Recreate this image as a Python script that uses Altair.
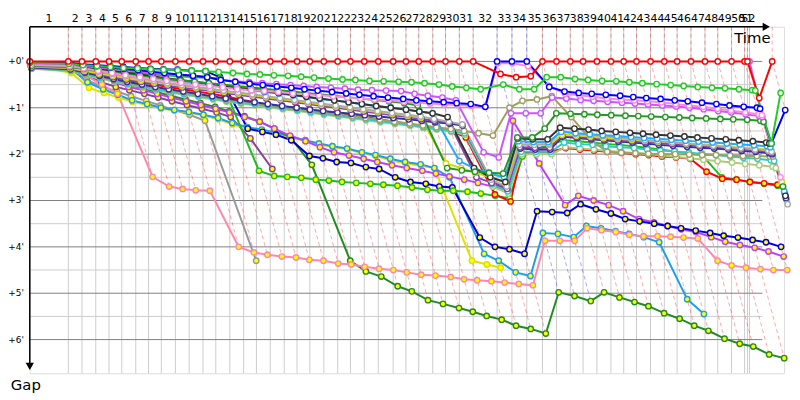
import altair as alt
import pandas as pd

# leader's cumulative race time (s) at the end of each lap index 0..53
lap_time = [0, 187, 253, 320, 384, 446, 514, 576, 638, 706, 773, 840, 902, 970, 1037, 1099,
            1166, 1234, 1296, 1358, 1426, 1493, 1555, 1622, 1690, 1762, 1824, 1886, 1954, 2016,
            2083, 2150, 2266, 2338, 2410, 2486, 2554, 2621, 2683, 2750, 2818, 2880, 2942, 3010,
            3077, 3139, 3206, 3274, 3336, 3403, 3466, 3480, 3490, 3600]
lap_labels = [str(n) for n in range(1, 53)]
gap_ticks = [0, 1, 2, 3, 4, 5, 6]
gap_minor = [0.5, 1.5, 2.5, 3.5, 4.5, 5.5]

# gaps to the leader (minutes), per lap from lap index 0
red_h = [0, 0, 0, 0, 0, 0, 0, 0, 0, 0, 0, 0, 0, 0, 0, 0, 0, 0, 0, 0, 0, 0, 0, 0, 0, 0, 0, 0, 0, 0, 0, 0,
         0.27, 0.34, 0.32,
         0, 0, 0, 0, 0, 0, 0, 0, 0, 0, 0, 0, 0, 0, 0, 0, 0, 0.79, 0]
green_h = [0.03, 0.05, 0.08, 0.1, 0.12, 0.14, 0.15, 0.17, 0.18, 0.19, 0.2, 0.21,
           0.23, 0.25, 0.27, 0.28, 0.3, 0.31, 0.33, 0.35, 0.37, 0.39, 0.4, 0.42, 0.43, 0.44, 0.45, 0.47, 0.5, 0.54, 0.57, 0.6,
           0.5, 0.6, 0.6,
           0.34, 0.34, 0.38, 0.4, 0.42, 0.43, 0.45, 0.47, 0.49, 0.51, 0.53, 0.55, 0.57, 0.58, 0.6, 0.62, 0.63, 1.77, 0.68]
blue_h = [0.02, 0.04, 0.07, 0.1, 0.13, 0.16, 0.19, 0.22, 0.25, 0.28, 0.31, 0.34,
          0.4, 0.44, 0.48, 0.51, 0.54, 0.57, 0.6, 0.63, 0.66, 0.69, 0.72, 0.75, 0.78, 0.81, 0.84, 0.86, 0.88, 0.9, 0.92, 0.98,
          0, 0, 0,
          0.55, 0.65, 0.68, 0.7, 0.72, 0.74, 0.77, 0.79, 0.81, 0.84, 0.86, 0.89, 0.92, 0.95, 0.98, 1.0, 1.02, 1.77, 1.05]
pink_h = [0.08, 0.1, 0.15, 0.2, 0.25, 0.3, 0.34, 0.38, 0.42, 0.46, 0.5, 0.53,
          0.56, 0.6, 0.62, 0.64, 0.66, 0.69, 0.71, 0.73, 0.75, 0.78, 0.8, 0.82, 0.84, 0.87, 0.89, 0.91, 0.93, 0.94, 0.96, 0.98,
          0.04, 0.04, 0.1,
          0.53, 0.7, 0.73, 0.76, 0.8, 0.82, 0.84, 0.86, 0.88, 0.92, 0.95, 0.98, 1.02, 1.06, 1.1, 1.14, 1.16, 2.5]
violet_h = [0.05, 0.07, 0.1, 0.13, 0.16, 0.19, 0.22, 0.25, 0.27, 0.29, 0.31, 0.33,
            0.4, 0.43, 0.45, 0.47, 0.49, 0.51, 0.53, 0.55, 0.57, 0.59, 0.61, 0.62, 0.63, 0.64, 0.7, 0.74, 0.78, 0.84, 1.96, 2.07,
            1.12, 1.12, 1.12,
            0.78, 0.8, 0.83, 0.85, 0.87, 0.89, 0.91, 0.93, 0.95, 0.97, 1.0, 1.03, 1.07, 1.1, 1.14, 1.18, 1.2, 0]
dkgreen_h = [0.1, 0.12, 0.16, 0.2, 0.24, 0.28, 0.32, 0.35, 0.38, 0.41, 0.44, 0.47,
             0.5, 0.53, 0.56, 0.59, 0.62, 0.65, 0.68, 0.71, 0.74, 0.77, 0.8, 0.83, 0.86, 0.9, 0.95, 2.3, 2.35, 2.38, 2.4, 2.42,
             1.64, 1.64, 1.45,
             1.12, 1.13, 1.14, 1.15, 1.16, 1.17, 1.18, 1.19, 1.2, 1.21, 1.22, 1.23, 1.24, 1.25, 1.26, 1.28, 1.3, 2.7]
black_h = [0.06, 0.08, 0.12, 0.16, 0.2, 0.24, 0.28, 0.32, 0.36, 0.4, 0.44, 0.48,
           0.52, 0.56, 0.6, 0.64, 0.68, 0.72, 0.76, 0.8, 0.84, 0.88, 0.92, 0.96, 1.0, 1.04, 1.08, 1.12, 1.2, 2.3, 2.5, 2.6,
           1.66, 1.68, 1.68,
           1.43, 1.45, 1.47, 1.5, 1.52, 1.54, 1.56, 1.58, 1.6, 1.62, 1.64, 1.66, 1.68, 1.7, 1.72, 1.75, 1.77, 2.9]
ltblue_h = [0.07, 0.09, 0.14, 0.18, 0.22, 0.27, 0.31, 0.35, 0.39, 0.43, 0.47, 0.5,
            0.54, 0.58, 0.62, 0.66, 0.69, 0.73, 0.77, 0.81, 0.84, 0.88, 0.92, 0.96, 1.0, 1.04, 1.08, 1.12, 2.15, 2.3, 2.42, 2.5,
            1.72, 1.74, 1.74,
            1.52, 1.55, 1.57, 1.59, 1.61, 1.63, 1.65, 1.67, 1.69, 1.71, 1.73, 1.75, 1.77, 1.79, 1.81, 1.83, 1.85, 2.8]
grey_h = [0.09, 0.11, 0.17, 0.22, 0.27, 0.32, 0.37, 0.42, 0.47, 0.51, 0.55, 0.59,
          0.63, 0.67, 0.71, 0.75, 0.79, 0.83, 0.87, 0.91, 0.95, 0.99, 1.03, 1.07, 1.11, 1.15, 1.19, 1.24, 1.3, 1.36, 2.55, 2.7,
          1.8, 1.8, 1.78,
          1.5, 1.55, 1.58, 1.61, 1.64, 1.67, 1.7, 1.72, 1.75, 1.77, 1.8, 1.82, 1.85, 1.87, 1.9, 1.92, 1.95, 3.08]
yellow_h = [0.11, 0.14, 0.2, 0.26, 0.31, 0.36, 0.41, 0.45, 0.49, 0.53, 0.57, 0.61,
            0.65, 0.69, 0.73, 0.77, 0.81, 0.85, 0.89, 0.93, 0.97, 1.01, 1.05, 1.09, 1.13, 1.17, 1.21, 2.2, 2.3, 2.4, 2.5, 2.62,
            1.78, 1.78, 1.8,
            1.58, 1.6, 1.62, 1.65, 1.67, 1.69, 1.71, 1.73, 1.75, 1.77, 1.79, 1.81, 1.84, 1.86, 1.88, 1.9, 1.93, 2.6]
purple_h = [0.12, 0.15, 0.22, 0.28, 0.34, 0.39, 0.44, 0.48, 0.52, 0.56, 0.6, 0.64,
            0.68, 0.72, 0.76, 0.8, 0.84, 0.88, 0.92, 0.96, 1.0, 1.04, 1.08, 1.12, 1.16, 1.2, 1.24, 1.28, 1.32, 2.5, 2.62, 2.75,
            1.85, 1.86, 1.86,
            1.6, 1.63, 1.65, 1.68, 1.7, 1.72, 1.74, 1.76, 1.78, 1.8, 1.82, 1.84, 1.87, 1.9, 1.92, 1.95, 1.97, 2.85]
navy_h = [0.13, 0.17, 0.24, 0.31, 0.38, 0.44, 0.5, 0.55, 0.6, 0.65, 0.7, 0.75,
          0.8, 0.84, 0.88, 0.92, 0.96, 1.0, 1.04, 1.07, 1.1, 1.13, 1.16, 1.19, 1.22, 1.25, 1.28, 1.31, 1.34, 1.38, 2.6, 2.7,
          1.88, 1.9, 1.9,
          1.62, 1.65, 1.68, 1.7, 1.73, 1.75, 1.77, 1.8, 1.82, 1.84, 1.86, 1.88, 1.9, 1.93, 1.95, 1.98, 2.0, 2.95]
olive_h = [0.14, 0.18, 0.26, 0.33, 0.4, 0.46, 0.52, 0.57, 0.62, 0.67, 0.72, 0.77,
           0.82, 0.86, 0.9, 0.94, 0.98, 1.02, 1.06, 1.1, 1.14, 1.18, 1.22, 1.26, 1.3, 1.34, 1.38, 1.42, 1.46, 1.5, 1.55, 1.6,
           1.0, 0.85, 0.82,
           0.75, 1.2, 1.7, 1.95, 1.97, 1.98, 1.99, 2.0, 2.0, 2.01, 2.02, 2.02, 2.03, 2.04, 2.04, 2.05, 2.05, 2.7]
teal_h = [0.15, 0.2, 0.28, 0.35, 0.42, 0.48, 0.54, 0.6, 0.65, 0.7, 0.75, 0.8,
          0.85, 0.89, 0.93, 0.97, 1.01, 1.05, 1.09, 1.13, 1.17, 1.21, 1.25, 1.29, 1.33, 1.37, 1.41, 1.45, 1.5, 1.55, 2.65, 2.8,
          1.95, 1.95, 1.95,
          1.75, 1.78, 1.8, 1.83, 1.85, 1.87, 1.9, 1.92, 1.94, 1.97, 1.99, 2.02, 2.05, 2.08, 2.1, 2.13, 2.15, 2.9]
ltgreen_h = [0.16, 0.21, 0.3, 0.37, 0.44, 0.5, 0.56, 0.62, 0.67, 0.72, 0.77, 0.82,
             0.87, 0.91, 0.95, 0.99, 1.03, 1.07, 1.11, 1.15, 1.19, 1.23, 1.27, 1.31, 1.35, 1.39, 1.43, 1.47, 1.52, 1.58, 2.7, 2.85,
             2.0, 2.0, 2.0,
             1.85, 1.88, 1.9, 1.93, 1.95, 1.98, 2.0, 2.03, 2.06, 2.09, 2.12, 2.15, 2.18, 2.21, 2.24, 2.27, 2.3, 3.0]
red_y = [0.1, 0.12, 0.18, 0.25, 0.32, 0.4, 0.45, 0.5, 0.55, 0.6, 0.65, 0.7, 0.75,
         0.82, 0.88, 0.94, 0.98, 1.0, 1.04, 1.08, 1.12, 1.17, 1.2, 1.25, 1.3,
         1.35, 1.43, 1.45, 1.5, 1.64, 2.87, 3.02,
         1.98, 1.95, 1.95,
         1.87, 1.9, 1.92, 1.95, 1.97, 2.0, 2.02, 2.05, 2.07, 2.1, 2.38, 2.53, 2.55, 2.6, 2.63, 2.66]
green_y = [0.05, 0.07, 0.12, 0.16, 0.2, 0.23, 0.26, 0.28, 0.3, 0.32, 0.34, 0.35, 0.37,
           2.36, 2.47, 2.49, 2.51, 2.55, 2.57, 2.6, 2.62, 2.64, 2.66,
           2.68, 2.72, 2.77, 2.79, 2.79, 2.81, 2.85, 2.9, 2.95,
           2.05, 1.9, 1.8,
           1.7, 1.72, 1.75, 1.78, 1.8, 1.83, 1.86, 1.9, 1.94, 1.98, 2.02, 2.5, 2.55, 2.6, 2.64, 2.68]
navy_y = [0.02, 0.03, 0.06, 0.08, 0.1, 0.12, 0.14, 0.16, 0.17, 0.18, 0.2, 0.21, 0.34,
          1.45, 1.52, 1.58, 1.7, 2.04, 2.09, 2.17, 2.19, 2.28, 2.32,
          2.5, 2.6, 2.64, 2.7, 2.72, 3.8, 4.0, 4.05, 4.15,
          3.23, 3.25, 3.27,
          3.08, 3.19, 3.28, 3.4, 3.45, 3.5, 3.55, 3.6, 3.65, 3.7, 3.76, 3.8, 3.85, 3.9, 4.0]
violet_y = [0.1, 0.12, 0.18, 0.3, 0.45, 0.55, 0.62, 0.7, 0.78, 0.86, 0.94, 1.02, 1.1,
            1.2, 1.3, 1.45, 1.6, 1.72, 1.85, 1.96, 2.03, 2.1, 2.17, 2.24, 2.3, 2.36, 2.42, 2.48, 2.55, 2.62, 2.7, 2.78,
            1.28, 2.2, 3.1,
            2.9, 3.0, 3.1, 3.23, 3.4, 3.47, 3.55, 3.62, 3.68, 3.79, 3.89, 3.96, 4.02, 4.1, 4.21]
pink_y = [0.12, 0.16, 0.3, 0.5, 0.7,
          2.49, 2.7, 2.75, 2.78, 2.79,
          4.0, 4.12, 4.17, 4.21, 4.23, 4.28, 4.3, 4.36, 4.38, 4.43, 4.47, 4.5, 4.55, 4.6, 4.62, 4.65, 4.7, 4.72, 4.74,
          4.77, 4.8, 4.83,
          3.87, 3.87, 3.87,
          3.6, 3.64, 3.68, 3.74, 3.77, 3.77, 3.78, 3.8, 3.82, 4.3, 4.4, 4.45, 4.48, 4.5, 4.5]
ltblue_y = [0.1, 0.13, 0.45, 0.6, 0.72, 0.84, 0.92, 1.0, 1.05, 1.09, 1.15, 1.22, 1.33,
            1.42, 1.47, 1.53, 1.62, 1.7, 1.77, 1.83, 1.88, 1.96, 2.02, 2.1, 2.17, 2.22, 2.3,
            2.5, 4.15, 4.3, 4.55, 4.63,
            3.7, 3.72, 3.79,
            3.55, 3.6, 3.66, 3.72, 3.79, 3.9, 5.13, 5.45]
yellow_y = [0.08, 0.25, 0.57, 0.68, 0.78, 0.87, 0.94, 1.02, 1.06, 1.1, 1.17, 1.25, 1.36,
            1.45, 1.49, 1.55, 1.64, 1.72, 1.79, 1.85, 1.89, 1.98, 2.04, 2.13, 2.2, 2.25, 2.3,
            4.3, 4.38, 4.45]
dkgreen_y = [0.12, 0.15, 0.22, 0.3, 0.4, 0.5, 0.58, 0.66, 0.74, 0.82, 0.9, 0.98, 1.08,
             1.18, 1.3, 1.45, 1.64, 2.23,
             4.3, 4.53, 4.64, 4.85, 4.96, 5.15, 5.23, 5.32, 5.4, 5.49, 5.57, 5.7, 5.77, 5.87,
             4.98, 5.06, 5.17, 4.98, 5.09, 5.19, 5.28, 5.43, 5.55, 5.7, 5.81, 5.98, 6.09, 6.15, 6.32, 6.4]
grey_y = [0.15, 0.18, 0.4, 0.55, 0.65, 0.75, 0.85, 0.95, 1.05, 1.15, 1.28, 4.3]
purple_y = [0.14, 0.17, 0.3, 0.45, 0.55, 0.62, 0.7, 0.78, 0.86, 0.94, 1.02, 1.1, 1.2, 1.66, 2.32]

drivers = [
    ("grey_y", "#999999", "#ffff00", grey_y),
    ("purple_y", "#884499", "#ffff00", purple_y),
    ("yellow_y", "#e0e000", "#ffff00", yellow_y),
    ("ltblue_y", "#1e9ee8", "#ffff00", ltblue_y),
    ("dkgreen_y", "#228b22", "#ffff00", dkgreen_y),
    ("pink_y", "#ff88aa", "#ffff00", pink_y),
    ("violet_y", "#c040f0", "#ffff00", violet_y),
    ("navy_y", "#0000cc", "#ffff00", navy_y),
    ("green_y", "#22bb22", "#ffff00", green_y),
    ("red_y", "#ff0000", "#ffff00", red_y),
    ("ltgreen_h", "#aacc77", "#ffffff", ltgreen_h),
    ("teal_h", "#33c8c8", "#ffffff", teal_h),
    ("olive_h", "#a0a060", "#ffffff", olive_h),
    ("navy_h", "#3030a0", "#ffffff", navy_h),
    ("purple_h", "#8844aa", "#ffffff", purple_h),
    ("yellow_h", "#d8d800", "#ffffff", yellow_h),
    ("grey_h", "#aaaaaa", "#ffffff", grey_h),
    ("ltblue_h", "#22aaff", "#ffffff", ltblue_h),
    ("black_h", "#333333", "#ffffff", black_h),
    ("dkgreen_h", "#229922", "#ffffff", dkgreen_h),
    ("violet_h", "#cc55ff", "#ffffff", violet_h),
    ("pink_h", "#ff88dd", "#ffffff", pink_h),
    ("blue_h", "#0000ff", "#ffffff", blue_h),
    ("green_h", "#22cc22", "#ffffff", green_h),
    ("red_h", "#ff0000", "#ffffff", red_h),
]

Y_TOP, Y_BOT = -0.747, 6.726
X_MAX = 3657.6

rows = []
for k, (name, col, fill, gaps) in enumerate(drivers):
    for lap, g in enumerate(gaps):
        rows.append({"driver": name, "order": k, "color": col, "fill": fill, "lap": lap,
                     "gap": g, "t": lap_time[lap] + g * 60})
df = pd.DataFrame(rows)

# dashed per-lap lines, coloured by the lap's leader
dash_rows = []
for lap in range(1, len(lap_time)):
    sub = df[df["lap"] == lap].sort_values("gap")
    lead_col = sub.iloc[0]["color"]
    dash_rows.append({"lap": lap, "gap": Y_TOP, "t": lap_time[lap], "color": lead_col, "o": -10})
    for _, r in sub.iterrows():
        dash_rows.append({"lap": lap, "gap": r["gap"], "t": r["t"], "color": lead_col, "o": r["gap"]})
dash_df = pd.DataFrame(dash_rows)

xs = alt.Scale(domain=[0, X_MAX], nice=False, zero=False)
ys = alt.Scale(domain=[Y_TOP, Y_BOT], reverse=True, nice=False, zero=False)
X = lambda f: alt.X(f, scale=xs, axis=None)
Y = lambda f: alt.Y(f, scale=ys, axis=None)

vgrid = alt.Chart(pd.DataFrame({"t": lap_time[1:53]})).mark_rule(
    color="#cccccc", strokeWidth=1).encode(x=X("t:Q"))
hminor = alt.Chart(pd.DataFrame({"g": gap_minor})).mark_rule(
    color="#cccccc", strokeWidth=1).encode(y=Y("g:Q"), x=alt.value(0), x2=alt.value(740))
hmajor = alt.Chart(pd.DataFrame({"g": gap_ticks})).mark_rule(
    color="#808080", strokeWidth=1).encode(y=Y("g:Q"), x=alt.value(0), x2=alt.value(740))

dashes = alt.Chart(dash_df).mark_line(strokeWidth=1, strokeDash=[4, 3], opacity=0.35).encode(
    x=X("t:Q"), y=Y("gap:Q"), detail="lap:N", order="o:Q",
    color=alt.Color("color:N", scale=None))

lines = alt.Chart(df).mark_line(strokeWidth=2).encode(
    x=X("t:Q"), y=Y("gap:Q"), detail="driver:N", order="lap:Q",
    color=alt.Color("color:N", scale=None))

points = alt.Chart(df).mark_point(filled=True, size=30, strokeWidth=1.4, opacity=1).encode(
    x=X("t:Q"), y=Y("gap:Q"),
    fill=alt.Fill("fill:N", scale=None),
    stroke=alt.Stroke("color:N", scale=None))

lab_df = pd.DataFrame({"lab": lap_labels,
                       "t": [(lap_time[i] + lap_time[i + 1]) / 2 for i in range(52)]})
lap_text = alt.Chart(lab_df).mark_text(font="DejaVu Sans", fontSize=11, baseline="middle",
                                       color="black").encode(
    x=X("t:Q"), y=alt.value(-8), text="lab:N")

ylab_df = pd.DataFrame({"g": gap_ticks, "lab": ["+%d'" % v for v in gap_ticks]})
y_text = alt.Chart(ylab_df).mark_text(font="DejaVu Sans", fontSize=9, align="right",
                                      baseline="middle", color="black").encode(
    y=Y("g:Q"), x=alt.value(-6), text="lab:N")

axis_top = alt.Chart(pd.DataFrame({"a": [0]})).mark_rule(color="black", strokeWidth=1.5).encode(
    x=alt.value(0), x2=alt.value(742), y=alt.value(0))
axis_left = alt.Chart(pd.DataFrame({"a": [0]})).mark_rule(color="black", strokeWidth=1.5).encode(
    x=alt.value(0), y=alt.value(0), y2=alt.value(342))
arrow_r = alt.Chart(pd.DataFrame({"a": [0]})).mark_point(
    shape="triangle-right", filled=True, color="black", size=70, opacity=1).encode(
    x=alt.value(744), y=alt.value(0))
arrow_d = alt.Chart(pd.DataFrame({"a": [0]})).mark_point(
    shape="triangle-down", filled=True, color="black", size=70, opacity=1).encode(
    x=alt.value(0), y=alt.value(343))
time_lab = alt.Chart(pd.DataFrame({"s": ["Time"]})).mark_text(
    font="DejaVu Sans", fontSize=15, baseline="middle", color="black").encode(
    x=alt.value(730), y=alt.value(11), text="s:N")
gap_lab = alt.Chart(pd.DataFrame({"s": ["Gap"]})).mark_text(
    font="DejaVu Sans", fontSize=15, baseline="middle", color="black").encode(
    x=alt.value(-4), y=alt.value(362), text="s:N")

chart = alt.layer(vgrid, hminor, hmajor, dashes, lines, points, lap_text, y_text,
                  axis_top, axis_left, arrow_r, arrow_d, time_lab, gap_lab).properties(
    width=762, height=350,
    padding={"left": 22, "top": 17, "right": 8, "bottom": 20},
    autosize=alt.AutoSizeParams(type="none"),
).configure_view(stroke=None).configure(background="white")

chart.save("out.html", embed_options={"renderer": "svg", "actions": False})
